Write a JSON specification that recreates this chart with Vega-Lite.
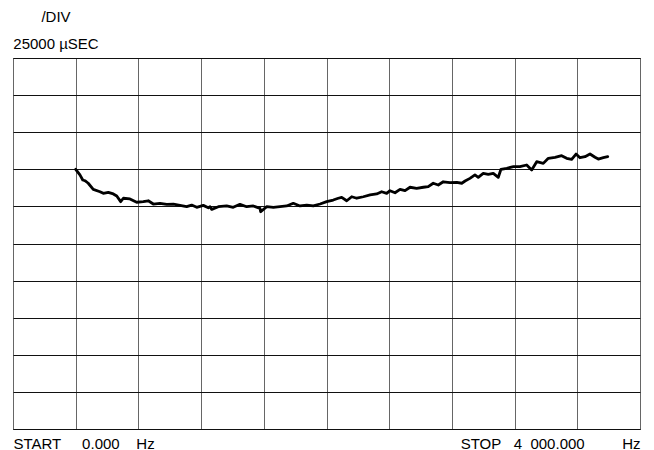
{
  "$schema": "https://vega.github.io/schema/vega-lite/v6.json",
  "width": 627,
  "height": 371,
  "autosize": {"type": "none"},
  "padding": {"left": 13, "top": 58, "right": 14, "bottom": 21},
  "background": "white",
  "config": {"view": {"stroke": "#000", "strokeWidth": 1}, "font": "Liberation Sans"},
  "title": {
    "text": "/DIV",
    "subtitle": "25000 µSEC",
    "anchor": "start",
    "align": "center",
    "dx": 43,
    "frame": "group",
    "font": "Liberation Sans",
    "subtitleFont": "Liberation Sans",
    "fontSize": 15,
    "subtitleFontSize": 15,
    "fontWeight": "normal",
    "color": "#000",
    "subtitleColor": "#000",
    "offset": 6,
    "subtitlePadding": 12
  },
  "data": {
    "values": [
      {"freq_hz": 400, "delay_us": 175000},
      {"freq_hz": 427, "delay_us": 171200},
      {"freq_hz": 445, "delay_us": 167800},
      {"freq_hz": 459, "delay_us": 167300},
      {"freq_hz": 480, "delay_us": 165600},
      {"freq_hz": 512, "delay_us": 161500},
      {"freq_hz": 555, "delay_us": 159900},
      {"freq_hz": 576, "delay_us": 158800},
      {"freq_hz": 608, "delay_us": 159500},
      {"freq_hz": 640, "delay_us": 158400},
      {"freq_hz": 662, "delay_us": 157000},
      {"freq_hz": 687, "delay_us": 153200},
      {"freq_hz": 704, "delay_us": 155500},
      {"freq_hz": 746, "delay_us": 155000},
      {"freq_hz": 789, "delay_us": 152800},
      {"freq_hz": 831, "delay_us": 153200},
      {"freq_hz": 863, "delay_us": 153800},
      {"freq_hz": 895, "delay_us": 151600},
      {"freq_hz": 938, "delay_us": 152100},
      {"freq_hz": 981, "delay_us": 151400},
      {"freq_hz": 1023, "delay_us": 151600},
      {"freq_hz": 1065, "delay_us": 150700},
      {"freq_hz": 1108, "delay_us": 149800},
      {"freq_hz": 1140, "delay_us": 150900},
      {"freq_hz": 1172, "delay_us": 149400},
      {"freq_hz": 1214, "delay_us": 150700},
      {"freq_hz": 1246, "delay_us": 149100},
      {"freq_hz": 1257, "delay_us": 149800},
      {"freq_hz": 1268, "delay_us": 148000},
      {"freq_hz": 1310, "delay_us": 149800},
      {"freq_hz": 1363, "delay_us": 150300},
      {"freq_hz": 1405, "delay_us": 149400},
      {"freq_hz": 1448, "delay_us": 151400},
      {"freq_hz": 1491, "delay_us": 149800},
      {"freq_hz": 1533, "delay_us": 150300},
      {"freq_hz": 1576, "delay_us": 148700},
      {"freq_hz": 1580, "delay_us": 146400},
      {"freq_hz": 1619, "delay_us": 149800},
      {"freq_hz": 1661, "delay_us": 149400},
      {"freq_hz": 1703, "delay_us": 149800},
      {"freq_hz": 1746, "delay_us": 150300},
      {"freq_hz": 1788, "delay_us": 152100},
      {"freq_hz": 1831, "delay_us": 150300},
      {"freq_hz": 1874, "delay_us": 150900},
      {"freq_hz": 1916, "delay_us": 150300},
      {"freq_hz": 1959, "delay_us": 151600},
      {"freq_hz": 2001, "delay_us": 153200},
      {"freq_hz": 2043, "delay_us": 154300},
      {"freq_hz": 2075, "delay_us": 155500},
      {"freq_hz": 2097, "delay_us": 156100},
      {"freq_hz": 2129, "delay_us": 153800},
      {"freq_hz": 2161, "delay_us": 156500},
      {"freq_hz": 2193, "delay_us": 155500},
      {"freq_hz": 2235, "delay_us": 156500},
      {"freq_hz": 2278, "delay_us": 157700},
      {"freq_hz": 2320, "delay_us": 158400},
      {"freq_hz": 2352, "delay_us": 159900},
      {"freq_hz": 2384, "delay_us": 158800},
      {"freq_hz": 2405, "delay_us": 160600},
      {"freq_hz": 2437, "delay_us": 159200},
      {"freq_hz": 2469, "delay_us": 161500},
      {"freq_hz": 2501, "delay_us": 160600},
      {"freq_hz": 2533, "delay_us": 162900},
      {"freq_hz": 2575, "delay_us": 162200},
      {"freq_hz": 2618, "delay_us": 162900},
      {"freq_hz": 2649, "delay_us": 163300},
      {"freq_hz": 2681, "delay_us": 165600},
      {"freq_hz": 2713, "delay_us": 164400},
      {"freq_hz": 2745, "delay_us": 166600},
      {"freq_hz": 2788, "delay_us": 166000},
      {"freq_hz": 2831, "delay_us": 166200},
      {"freq_hz": 2863, "delay_us": 165600},
      {"freq_hz": 2884, "delay_us": 167100},
      {"freq_hz": 2915, "delay_us": 168900},
      {"freq_hz": 2947, "delay_us": 171200},
      {"freq_hz": 2968, "delay_us": 169600},
      {"freq_hz": 3000, "delay_us": 172300},
      {"freq_hz": 3032, "delay_us": 171600},
      {"freq_hz": 3064, "delay_us": 172300},
      {"freq_hz": 3096, "delay_us": 169600},
      {"freq_hz": 3113, "delay_us": 175000},
      {"freq_hz": 3150, "delay_us": 175700},
      {"freq_hz": 3192, "delay_us": 176800},
      {"freq_hz": 3234, "delay_us": 176800},
      {"freq_hz": 3277, "delay_us": 177900},
      {"freq_hz": 3309, "delay_us": 174500},
      {"freq_hz": 3341, "delay_us": 180100},
      {"freq_hz": 3383, "delay_us": 179000},
      {"freq_hz": 3415, "delay_us": 182400},
      {"freq_hz": 3458, "delay_us": 183100},
      {"freq_hz": 3500, "delay_us": 184200},
      {"freq_hz": 3532, "delay_us": 182400},
      {"freq_hz": 3564, "delay_us": 181700},
      {"freq_hz": 3592, "delay_us": 185300},
      {"freq_hz": 3617, "delay_us": 182800},
      {"freq_hz": 3649, "delay_us": 183500},
      {"freq_hz": 3681, "delay_us": 185300},
      {"freq_hz": 3713, "delay_us": 183100},
      {"freq_hz": 3734, "delay_us": 181900},
      {"freq_hz": 3766, "delay_us": 182800},
      {"freq_hz": 3794, "delay_us": 183500}
    ]
  },
  "mark": {"type": "line", "color": "#000", "strokeWidth": 2.8, "strokeJoin": "round", "strokeCap": "round"},
  "encoding": {
    "x": {
      "field": "freq_hz",
      "type": "quantitative",
      "scale": {"domain": [0, 4000], "nice": false, "zero": false},
      "axis": {
        "title": null,
        "values": [0, 400, 800, 1200, 1600, 2000, 2400, 2800, 3200, 3600, 4000],
        "grid": true,
        "gridColor": "#666",
        "gridWidth": 1,
        "gridOpacity": 1,
        "domain": false,
        "ticks": false,
        "tickSize": 0,
        "labelExpr": "datum.value == 0 ? 'START\u00a0\u00a0\u00a0\u00a0\u00a00.000\u00a0\u00a0\u00a0\u00a0Hz' : (datum.value == 4000 ? 'STOP\u00a0\u00a0\u00a04\u00a0\u00a0000.000\u00a0\u00a0\u00a0\u00a0\u00a0\u00a0\u00a0\u00a0\u00a0Hz' : '')",
        "labelAlign": {"condition": {"test": "datum.value == 0", "value": "left"}, "value": "right"},
        "labelFlush": false,
        "labelOverlap": false,
        "labelBound": false,
        "labelFont": "Liberation Sans",
        "labelFontSize": 15,
        "labelColor": "#000",
        "labelPadding": 7,
        "labelBaseline": "top"
      }
    },
    "y": {
      "field": "delay_us",
      "type": "quantitative",
      "scale": {"domain": [0, 250000], "nice": false, "zero": false},
      "axis": {
        "title": null,
        "values": [0, 25000, 50000, 75000, 100000, 125000, 150000, 175000, 200000, 225000, 250000],
        "grid": true,
        "gridColor": "#111",
        "gridWidth": 1,
        "gridOpacity": 1,
        "domain": false,
        "ticks": false,
        "labels": false
      }
    }
  }
}
